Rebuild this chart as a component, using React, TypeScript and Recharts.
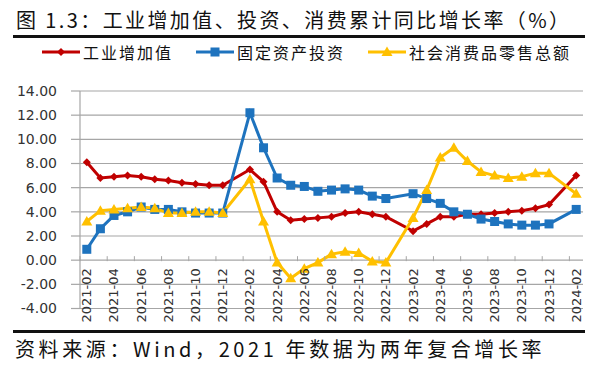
import React from "react";
import {
  LineChart,
  Line,
  XAxis,
  YAxis,
  CartesianGrid,
  Legend,
} from "recharts";

// monthly categories, January slots have no data (Jan-Feb reported together)
const months = [
  "2021-02", "2021-03", "2021-04", "2021-05", "2021-06", "2021-07", "2021-08", "2021-09", "2021-10", "2021-11", "2021-12",
  "2022-01", "2022-02", "2022-03", "2022-04", "2022-05", "2022-06", "2022-07", "2022-08", "2022-09", "2022-10", "2022-11", "2022-12",
  "2023-01", "2023-02", "2023-03", "2023-04", "2023-05", "2023-06", "2023-07", "2023-08", "2023-09", "2023-10", "2023-11", "2023-12",
  "2024-01", "2024-02",
];

const industry = [
  8.1, 6.8, 6.9, 7.0, 6.9, 6.7, 6.6, 6.4, 6.3, 6.2, 6.2,
  null, 7.5, 6.5, 4.0, 3.3, 3.4, 3.5, 3.6, 3.9, 4.0, 3.8, 3.6,
  null, 2.4, 3.0, 3.6, 3.6, 3.8, 3.8, 3.9, 4.0, 4.1, 4.3, 4.6,
  null, 7.0,
];

const investment = [
  0.9, 2.6, 3.7, 4.0, 4.4, 4.2, 4.2, 4.0, 3.9, 3.9, 3.9,
  null, 12.2, 9.3, 6.8, 6.2, 6.1, 5.7, 5.8, 5.9, 5.8, 5.3, 5.1,
  null, 5.5, 5.1, 4.7, 4.0, 3.8, 3.4, 3.2, 3.0, 2.9, 2.9, 3.0,
  null, 4.2,
];

const retail = [
  3.2, 4.1, 4.2, 4.3, 4.4, 4.3, 3.9, 3.9, 4.0, 4.0, 3.9,
  null, 6.7, 3.2, -0.2, -1.5, -0.7, -0.2, 0.5, 0.7, 0.6, -0.1, -0.2,
  null, 3.5, 5.8, 8.5, 9.3, 8.2, 7.3, 7.0, 6.8, 6.9, 7.2, 7.2,
  null, 5.5,
];

const yTicks = [-4, -2, 0, 2, 4, 6, 8, 10, 12, 14];

const data = months.map((m, i) => ({
  month: m,
  industry: industry[i],
  investment: investment[i],
  retail: retail[i],
}));

const RED = "#C00000";
const BLUE = "#1E73BE";
const GOLD = "#FFC000";
const GRID = "#A6A6A6";
const CJK = '"Noto Sans CJK SC", sans-serif';

const W = 603;
const H = 371;
const TOP = 73;
const BOTTOM = 308.5;
const LEFT = 80;
const RIGHT = 583;
const X_AXIS_H = 10;
const PLOT_H = BOTTOM - TOP;
const ZERO_Y = TOP + (PLOT_H * 14) / 18;
const BAND = (RIGHT - LEFT) / months.length;

const Diamond = ({ cx, cy }: any) => {
  if (cx == null || cy == null) return <g />;
  const r = 4;
  return (
    <path
      d={`M${cx},${cy - r}L${cx + r},${cy}L${cx},${cy + r}L${cx - r},${cy}Z`}
      fill={RED}
    />
  );
};

const Square = ({ cx, cy }: any) => {
  if (cx == null || cy == null) return <g />;
  return <rect x={cx - 4.5} y={cy - 4.5} width={9} height={9} fill={BLUE} />;
};

const Triangle = ({ cx, cy }: any) => {
  if (cx == null || cy == null) return <g />;
  return (
    <path
      d={`M${cx},${cy - 5.5}L${cx + 5.5},${cy + 4}L${cx - 5.5},${cy + 4}Z`}
      fill={GOLD}
    />
  );
};

const XTick = ({ x, payload }: any) => (
  <g>
    <line
      x1={x - BAND / 2}
      x2={x - BAND / 2}
      y1={ZERO_Y}
      y2={ZERO_Y + 5}
      stroke={GRID}
    />
    <text
      transform={`translate(${x + 4.5},${ZERO_Y + 12}) rotate(-90)`}
      textAnchor="end"
      fontSize={13}
      fontFamily='"DejaVu Sans", sans-serif'
      fill="#333"
    >
      {payload.value}
    </text>
  </g>
);

const legendItems = [
  { label: "工业增加值", color: RED, Mark: Diamond },
  { label: "固定资产投资", color: BLUE, Mark: Square },
  { label: "社会消费品零售总额", color: GOLD, Mark: Triangle },
];

const LegendContent = () => (
  <div style={{ display: "flex", gap: 23, paddingLeft: 42, alignItems: "center" }}>
    {legendItems.map(({ label, color, Mark }) => (
      <div key={label} style={{ display: "flex", alignItems: "center" }}>
        <svg width={38} height={14}>
          <line x1={0} x2={38} y1={7} y2={7} stroke={color} strokeWidth={3} />
          <Mark cx={19} cy={7} />
        </svg>
        <span
          style={{
            marginLeft: 3,
            fontFamily: CJK,
            fontSize: 16,
            letterSpacing: 2,
            color: "#111",
            lineHeight: "18px",
          }}
        >
          {label}
        </span>
      </div>
    ))}
  </div>
);

export default function App() {
  return (
    <div
      style={{
        position: "absolute",
        left: 0,
        top: 0,
        width: W,
        height: H,
        background: "#fff",
        overflow: "hidden",
      }}
    >
      <div
        style={{
          position: "absolute",
          left: 16,
          top: 8,
          fontFamily: CJK,
          fontSize: 20,
          lineHeight: "24px",
          letterSpacing: 2.4,
          color: "#111",
          whiteSpace: "nowrap",
        }}
      >
        图 1.3：工业增加值、投资、消费累计同比增长率（%）
      </div>
      <div style={{ position: "absolute", left: 13, top: 35, width: 572, height: 3, background: "#111" }} />

      <LineChart
        width={W}
        height={H}
        data={data}
        margin={{ top: TOP, right: W - RIGHT, left: 0, bottom: H - BOTTOM - X_AXIS_H }}
      >
        <CartesianGrid vertical={false} stroke={GRID} strokeWidth={1.2} />
        <XAxis
          dataKey="month"
          height={X_AXIS_H}
          interval={1}
          axisLine={false}
          tickLine={false}
          padding={{ left: BAND / 2, right: BAND / 2 }}
          tick={(p: any) => <XTick {...p} />}
        />
        <YAxis
          width={LEFT}
          domain={[-4, 14]}
          ticks={yTicks}
          tickFormatter={(v: number) => v.toFixed(2)}
          axisLine={{ stroke: GRID, strokeWidth: 1.2 }}
          tickLine={{ stroke: GRID, strokeWidth: 1.2 }}
          tickSize={9}
          tickMargin={14}
          tick={{ fontSize: 14, fill: "#333", fontFamily: '"DejaVu Sans", sans-serif' }}
        />
        <Legend
          verticalAlign="top"
          content={() => <LegendContent />}
          wrapperStyle={{ position: "absolute", top: 43, left: 0, width: W }}
        />
        <Line
          dataKey="industry"
          name="工业增加值"
          stroke={RED}
          strokeWidth={3}
          connectNulls
          dot={(p: any) => <Diamond key={p.index} {...p} />}
          isAnimationActive={false}
        />
        <Line
          dataKey="investment"
          name="固定资产投资"
          stroke={BLUE}
          strokeWidth={3}
          connectNulls
          dot={(p: any) => <Square key={p.index} {...p} />}
          isAnimationActive={false}
        />
        <Line
          dataKey="retail"
          name="社会消费品零售总额"
          stroke={GOLD}
          strokeWidth={3}
          connectNulls
          dot={(p: any) => <Triangle key={p.index} {...p} />}
          isAnimationActive={false}
        />
      </LineChart>

      <div style={{ position: "absolute", left: 13, top: 330, width: 572, height: 3, background: "#111" }} />
      <div
        style={{
          position: "absolute",
          left: 15,
          top: 336,
          fontFamily: CJK,
          fontSize: 20,
          lineHeight: "26px",
          letterSpacing: 3.6,
          color: "#111",
          whiteSpace: "nowrap",
        }}
      >
        资料来源：Wind，2021 年数据为两年复合增长率
      </div>
    </div>
  );
}
